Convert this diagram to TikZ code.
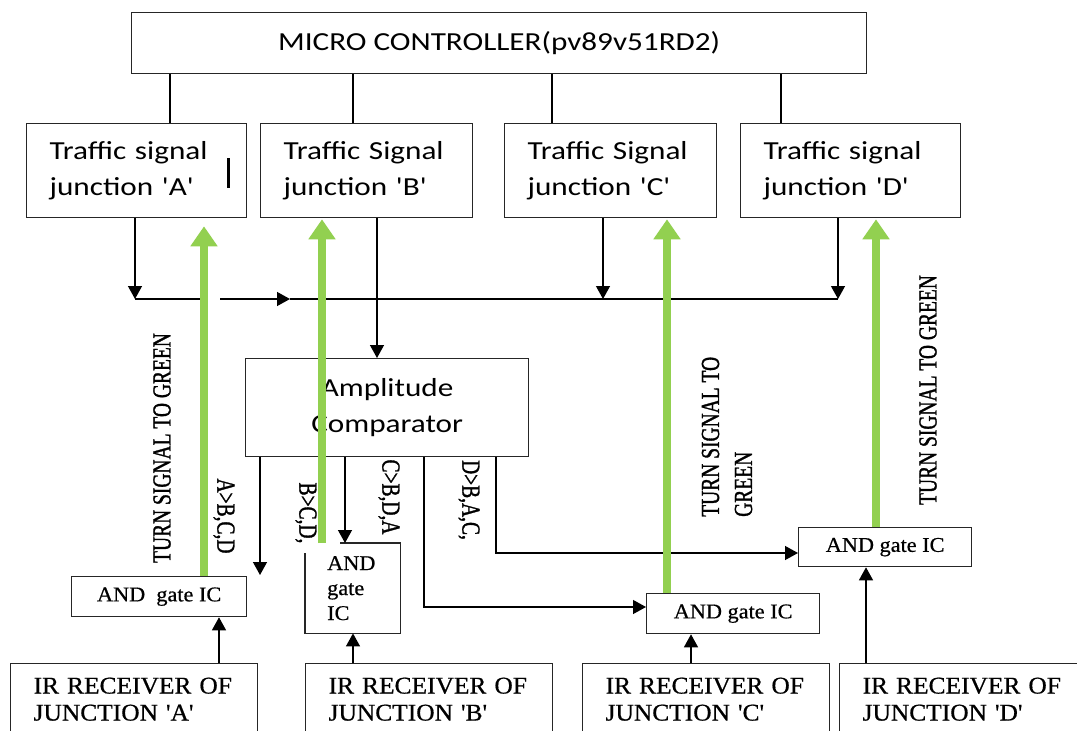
\documentclass[tikz,border=0pt]{standalone}
\usepackage{fontspec}
\usetikzlibrary{arrows.meta,calc}
\newfontfamily\calfont[FakeStretch=1.2,Ligatures=TeXOff]{Carlito}
\newfontfamily\tmsfont[FakeStretch=1.06,FakeBold=0.6,Ligatures=TeXOff]{Liberation Serif}
\newfontfamily\tnarfont[FakeStretch=0.75,FakeBold=1.2,Ligatures=TeXOff]{Liberation Serif}
\definecolor{grn}{HTML}{92D050}
\begin{document}
\begin{tikzpicture}[x=1pt,y=-1pt,
  ln/.style={line width=1.3pt,draw=black},
  arr/.style={ln,-{Triangle[width=14pt,length=13pt]}},
  garr/.style={draw=grn,line width=8pt,-{Triangle[width=26pt,length=20pt]}},
  bx/.style={draw=black!85,line width=1.3pt,anchor=north west,inner sep=0pt},
  calt/.style={font=\calfont\fontsize{26}{36}\selectfont},
  tsbox/.style={bx,calt,align=left,inner xsep=23pt,minimum height=94pt,text width=#1},
  andbox/.style={bx,font=\tmsfont\fontsize{21}{25}\selectfont},
  irbox/.style={bx,font=\tmsfont\fontsize{24}{27}\selectfont,align=left,inner xsep=23pt,inner ysep=14pt,text width=#1},
  rlab/.style={font=\tnarfont\fontsize{26}{33}\selectfont,inner sep=0pt}
]
\useasboundingbox (0,0) rectangle (1077,731);
\clip (0,0) rectangle (1077,731);

% boxes
\node[bx,calt,minimum width=735pt,minimum height=61pt] (mc) at (131,12) {\raisebox{3pt}{MICRO CONTROLLER(pv89v51RD2)}};
\node[tsbox=174pt] (tsA) at (26,123) {Traffic~signal\\junction~'A'};
\node[tsbox=166pt] (tsB) at (260,123) {Traffic~Signal\\junction~'B'};
\node[tsbox=166pt] (tsC) at (504,123) {Traffic~Signal\\junction~'C'};
\node[tsbox=174pt] (tsD) at (740,123) {Traffic~signal\\junction~'D'};
\node[bx,calt,align=center,minimum width=283pt,minimum height=98pt] (cmp) at (245,358) {Amplitude\\Comparator};

\node[andbox,minimum width=175pt,minimum height=40pt] (andA) at (71,576) {AND~~gate IC};
\node[anchor=north west,inner xsep=22pt,inner ysep=0pt,text width=51pt,minimum height=90pt,align=left,font=\tmsfont\fontsize{21}{25}\selectfont] (andB) at (305,543) {AND\\gate\\IC};
\draw[draw=black!85,line width=1.3pt] ($(andB.north west)+(35,0)$) -- (andB.north east) -- (andB.south east) -- (andB.south west) -- ($(andB.north west)+(0,10)$);
\node[andbox,minimum width=173pt,minimum height=40pt] (andC) at (646,593) {AND gate IC};
\node[andbox,minimum width=173pt,minimum height=39pt] (andD) at (798,527) {AND gate IC};

\node[irbox=201pt] (irA) at (10,663) {\mbox{IR RECEIVER OF}\\\mbox{JUNCTION 'A'}};
\node[irbox=201pt] (irB) at (305,663) {\mbox{IR RECEIVER OF}\\\mbox{JUNCTION 'B'}};
\node[irbox=201pt] (irC) at (582,663) {\mbox{IR RECEIVER OF}\\\mbox{JUNCTION 'C'}};
\node[irbox=214pt] (irD) at (839,663) {\mbox{IR RECEIVER OF}\\\mbox{JUNCTION 'D'}};

% stray mark
\draw[line width=3pt] (228,158) -- (228,188);

% micro controller to signals
\coordinate (m1) at (170,0);
\coordinate (m2) at (353,0);
\coordinate (m3) at (552,0);
\coordinate (m4) at (781,0);
\draw[ln] (mc.south -| m1) -- (tsA.north -| m1);
\draw[ln] (mc.south -| m2) -- (tsB.north -| m2);
\draw[ln] (mc.south -| m3) -- (tsC.north -| m3);
\draw[ln] (mc.south -| m4) -- (tsD.north -| m4);

% bus
\coordinate (jA) at (135,299);
\coordinate (jC) at (603,299);
\coordinate (jD) at (838,299);
\draw[arr] (tsA.south -| jA) -- (jA);
\draw[arr] (tsC.south -| jC) -- (jC);
\draw[arr] (tsD.south -| jD) -- (jD);
\draw[ln] (jA) -- ($(jA)+(65,0)$);
\draw[arr] ($(jA)+(85,0)$) -- ($(jA)+(155,0)$);
\draw[ln] ($(jA)+(155,0)$) -- (jD);
\coordinate (xB) at (377,0);
\draw[arr] (tsB.south -| xB) -- (cmp.north -| xB);

% comparator outputs
\coordinate (o1) at (260,575);
\draw[arr] (cmp.south -| o1) -- (o1);
\coordinate (x2) at (345,0);
\draw[arr] (cmp.south -| x2) -- (andB.north -| x2);
\coordinate (k3) at (424,607);
\draw[arr] (cmp.south -| k3) |- (andC.west |- k3);
\coordinate (k4) at (496,553);
\draw[arr] (cmp.south -| k4) |- (andD.west |- k4);

% IR to AND
\coordinate (r1) at (219,0);
\coordinate (r2) at (353,0);
\coordinate (r3) at (691,0);
\coordinate (r4) at (866,0);
\draw[arr] (irA.north -| r1) -- (andA.south -| r1);
\draw[arr] (irB.north -| r2) -- (andB.south -| r2);
\draw[arr] (irC.north -| r3) -- (andC.south -| r3);
\draw[arr] (irD.north -| r4) -- (andD.south -| r4);

% green arrows
\coordinate (g1) at (204,0);
\coordinate (g2) at (322,0);
\coordinate (g3) at (667,0);
\coordinate (g4) at (876,0);
\draw[garr,shorten >=8pt] (andA.north -| g1) -- (tsA.south -| g1);
\draw[garr,shorten >=1pt] (andB.north -| g2) -- (tsB.south -| g2);
\draw[garr,shorten >=1pt] (andC.north -| g3) -- (tsC.south -| g3);
\draw[garr,shorten >=1pt] (andD.north -| g4) -- (tsD.south -| g4);

% labels
\node[rlab,rotate=90] (tA) at (162,448) {TURN SIGNAL TO GREEN};
\node[rlab,rotate=-90] (lA) at (224,516) {A>B,C,D};
\node[rlab,rotate=-90] (lB) at (306,513) {B>C,D,};
\node[rlab,rotate=-90] (lC) at (389,497) {C>B,D,A};
\node[rlab,rotate=-90] (lD) at (469,500) {D>B,A,C,};
\node[rlab,rotate=90,align=left,anchor=west] (tC) at (727,517) {TURN SIGNAL TO\\GREEN};
\node[rlab,rotate=90] (tD) at (928,390) {TURN SIGNAL TO GREEN};
\end{tikzpicture}
\end{document}
